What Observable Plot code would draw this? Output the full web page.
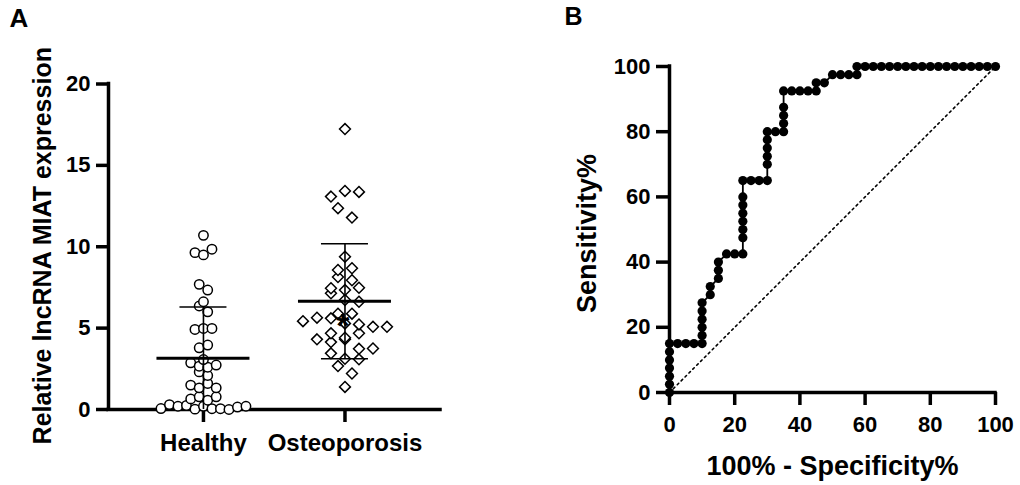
<!DOCTYPE html>
<html>
<head>
<meta charset="utf-8">
<script src="https://cdn.jsdelivr.net/npm/d3@7"></script>
<script src="https://cdn.jsdelivr.net/npm/@observablehq/plot@0.6"></script>
<style>
  html, body { margin: 0; padding: 0; background: white; }
  #wrap { position: relative; width: 1020px; height: 485px; overflow: hidden; }
  #panelA { position: absolute; left: 0; top: 0; }
  #panelB { position: absolute; left: 510px; top: 0; }
</style>
</head>
<body>
<div id="wrap"><div id="panelA"></div><div id="panelB"></div></div>
<script>
// ---------- Panel A data ----------
const categories = ["Healthy", "Osteoporosis"];
const healthyValues = [
  10.7, 9.64, 9.5, 9.85, 7.69, 7.34, 6.62, 6.36, 6.0, 4.92,
  4.98, 4.98, 3.79, 3.96, 3.07, 2.87, 2.66, 2.6, 2.73, 2.31,
  2.09, 1.5, 1.33, 1.6, 1.33, 0.65, 0.78, 0.57, 0.78, 0.06,
  0.3, 0.2, 0.25, 0.02, 0.2, 0.05, 0.05, 0.0, 0.15, 0.2
];
const osteoporosisValues = [
  17.23, 13.08, 13.43, 13.37, 12.37, 11.79, 9.39, 8.57, 8.68, 8.14,
  7.94, 7.45, 7.34, 7.48, 7.14, 6.73, 6.62, 5.89, 5.43, 5.64,
  5.89, 5.6, 5.29, 5.23, 5.08, 5.08, 4.68, 4.31, 4.14, 4.31,
  4.41, 4.68, 3.73, 3.75, 3.45, 3.12, 3.08, 2.67, 2.21, 1.39
];
const groupMeans = [3.15, 6.65];
const groupSDs = [3.15, 3.53];
const yTicksA = [0, 5, 10, 15, 20];
const yTitleA = "Relative lncRNA MIAT expression";
const significanceMark = "*";
const significanceY = 5.7;

// ---------- Panel B data ----------
const rocFPR = [
  0, 0, 0, 0, 0, 0, 0, 2.5, 5, 7.5,
  10, 10, 10, 10, 10, 10, 12.5, 12.5, 15, 15,
  15, 17.5, 20, 22.5, 22.5, 22.5, 22.5, 22.5, 22.5, 22.5,
  22.5, 25, 27.5, 30, 30, 30, 30, 30, 30, 32.5,
  35, 35, 35, 35, 35, 37.5, 40, 42.5, 45, 45,
  47.5, 50, 52.5, 55, 57.5, 57.5, 60, 62.5, 65, 67.5,
  70, 72.5, 75, 77.5, 80, 82.5, 85, 87.5, 90, 92.5,
  95, 97.5, 100
];
const rocSensitivity = [
  0, 2.5, 5, 7.5, 10, 12.5, 15, 15, 15, 15,
  15, 17.5, 20, 22.5, 25, 27.5, 30, 32.5, 35, 37.5,
  40, 42.5, 42.5, 42.5, 47.5, 50, 52.5, 55, 57.5, 60,
  65, 65, 65, 65, 70, 72.5, 75, 77.5, 80, 80,
  80, 82.5, 85, 87.5, 92.5, 92.5, 92.5, 92.5, 92.5, 95,
  95, 97.5, 97.5, 97.5, 97.5, 100, 100, 100, 100, 100,
  100, 100, 100, 100, 100, 100, 100, 100, 100, 100,
  100, 100, 100
];
const chanceFPR = [0, 100];
const chanceSensitivity = [0, 100];
const ticksB = [0, 20, 40, 60, 80, 100];
const xTitleB = "100% - Specificity%";
const yTitleB = "Sensitivity%";

// ---------- helpers ----------
const font = "'Liberation Sans', Arial, Helvetica, sans-serif";
const bold = {fontWeight: "bold", fill: "black"};
const axisW = 3.5;

// GraphPad-like scatter: group close values into rows, spread each row horizontally
function columnScatter(values, group, spacingPx, rowSpan) {
  const order = d3.range(values.length).sort((a, b) => values[a] - values[b] || a - b);
  const rows = [];
  let cur = null;
  for (const i of order) {
    if (!cur || values[i] - cur.start > rowSpan) { cur = {start: values[i], items: []}; rows.push(cur); }
    cur.items.push(i);
  }
  const out = [];
  for (const row of rows) {
    row.items.sort((a, b) => a - b);
    const n = row.items.length;
    row.items.forEach((i, k) => out.push({group, value: values[i], offsetPx: (k - (n - 1) / 2) * spacingPx}));
  }
  return out;
}

// ---------- Panel A ----------
const A = {width: 510, height: 485, left: 108, right: 70, top: 83.5, bottom: 76};
const xDomA = [-0.671, 1.675];
const pxPerUnitA = (A.width - A.left - A.right) / (xDomA[1] - xDomA[0]);
const healthyPts = columnScatter(healthyValues, 0, 8.5, 0.45);
const osteoPts = columnScatter(osteoporosisValues, 1, 14, 0.6);
const stats = categories.map((c, i) => ({i, mean: groupMeans[i], sd: groupSDs[i]}));
const px = (d) => d.group + d.offsetPx / pxPerUnitA;

const plotA = Plot.plot({
  width: A.width, height: A.height,
  marginLeft: A.left, marginRight: A.right, marginTop: A.top, marginBottom: A.bottom,
  style: {fontFamily: font, color: "black", background: "white", overflow: "visible"},
  x: {domain: xDomA, axis: null},
  y: {domain: [0, 20], axis: null},
  marks: [
    Plot.axisY(yTicksA, {tickSize: 12, tickPadding: 6, fontSize: 22, ...bold, strokeWidth: axisW, label: null}),
    Plot.axisX([0, 1], {tickSize: 13, tickPadding: 11, fontSize: 24, ...bold, strokeWidth: axisW,
      tickFormat: (i) => categories[i], label: null}),
    Plot.ruleX([xDomA[0]], {strokeWidth: axisW, strokeLinecap: "square"}),
    Plot.ruleY([0], {strokeWidth: axisW, strokeLinecap: "square"}),
    Plot.dot(healthyPts, {x: px, y: "value", r: 4.7, symbol: "circle", fill: "white", stroke: "black", strokeWidth: 1.5}),
    Plot.dot(osteoPts, {x: px, y: "value", r: 4.9, symbol: "diamond2", fill: "white", stroke: "black", strokeWidth: 1.5}),
    Plot.ruleX(stats, {x: "i", y1: (d) => Math.max(0, d.mean - d.sd), y2: (d) => d.mean + d.sd, strokeWidth: 1.6}),
    Plot.ruleY(stats, {y: (d) => d.mean + d.sd, x1: (d) => d.i - 23.5 / pxPerUnitA, x2: (d) => d.i + 23.5 / pxPerUnitA, strokeWidth: 1.6}),
    Plot.ruleY(stats.filter((d) => d.mean - d.sd > 0), {y: (d) => d.mean - d.sd, x1: (d) => d.i - 23.5 / pxPerUnitA, x2: (d) => d.i + 23.5 / pxPerUnitA, strokeWidth: 1.6}),
    Plot.ruleY(stats, {y: "mean", x1: (d) => d.i - 46.5 / pxPerUnitA, x2: (d) => d.i + 46.5 / pxPerUnitA, strokeWidth: 3}),
    Plot.text([significanceMark], {x: 1, y: significanceY, text: (d) => d, fontSize: 34, ...bold, dx: -2, dy: 9}),
    Plot.text([yTitleA], {frameAnchor: "left", textAnchor: "middle", rotate: -90, dx: -66, dy: -1, text: (d) => d, fontSize: 25, ...bold}),
    Plot.text(["A"], {frameAnchor: "top-left", textAnchor: "start", lineAnchor: "top", dx: -99, dy: -75, text: (d) => d, fontSize: 26, ...bold})
  ]
});
document.getElementById("panelA").append(plotA);

// ---------- Panel B ----------
const roc = rocFPR.map((x, i) => ({x, y: rocSensitivity[i]}));
const chance = chanceFPR.map((x, i) => ({x, y: chanceSensitivity[i]}));
const plotB = Plot.plot({
  width: 510, height: 485,
  marginLeft: 159, marginRight: 25, marginTop: 66, marginBottom: 93,
  style: {fontFamily: font, color: "black", background: "white", overflow: "visible"},
  x: {domain: [0, 100], axis: null},
  y: {domain: [0, 100], axis: null},
  marks: [
    Plot.line(chance, {x: "x", y: "y", stroke: "black", strokeWidth: 1.6, strokeDasharray: "2,3.5"}),
    Plot.axisX(ticksB, {tickSize: 13, tickPadding: 11, fontSize: 22, ...bold, strokeWidth: axisW, label: null}),
    Plot.axisY(ticksB, {tickSize: 13, tickPadding: 6, fontSize: 22, ...bold, strokeWidth: axisW, label: null}),
    Plot.ruleX([0], {strokeWidth: axisW, strokeLinecap: "square"}),
    Plot.ruleY([0], {strokeWidth: axisW, strokeLinecap: "square"}),
    Plot.line(roc, {x: "x", y: "y", stroke: "black", strokeWidth: 1.8}),
    Plot.dot(roc, {x: "x", y: "y", r: 4.6, fill: "black", stroke: "none"}),
    Plot.text([yTitleB], {frameAnchor: "left", textAnchor: "middle", rotate: -90, dx: -82, dy: 4, text: (d) => d, fontSize: 27, ...bold}),
    Plot.text([xTitleB], {frameAnchor: "bottom", lineAnchor: "top", dy: 63, text: (d) => d, fontSize: 27, ...bold}),
    Plot.text(["B"], {frameAnchor: "top-left", textAnchor: "start", lineAnchor: "top", dx: -105, dy: -59, text: (d) => d, fontSize: 25, ...bold})
  ]
});
document.getElementById("panelB").append(plotB);
</script>
</body>
</html>
